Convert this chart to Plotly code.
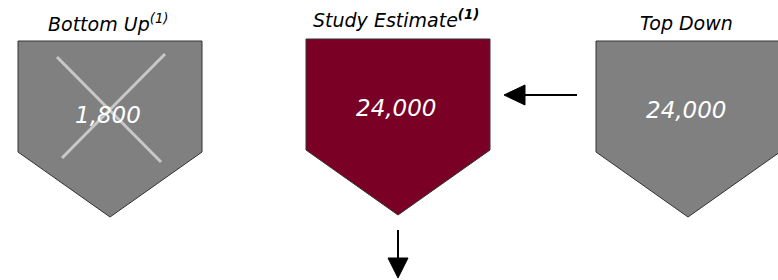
import plotly.graph_objects as go

# ---- data ----
labels = ["Bottom Up", "Study Estimate", "Top Down"]
label_notes = ["(1)", "(1)", ""]
values = [1800, 24000, 24000]
crossed_out = [True, False, False]
box_colors = ["#808080", "#7a0026", "#808080"]

# ---- layout geometry (pixels) ----
W, H = 778, 280
centers = [110, 398, 688]
tops = [41, 39, 41]
title_y = [23, 19, 23]
value_dy = [74, 69, 69]
half_w = 92
shoulder_drop = 111
tip_drop = 176

fig = go.Figure()

for i, (lab, val) in enumerate(zip(labels, values)):
    cx, top = centers[i], tops[i]
    xs = [cx - half_w, cx + half_w, cx + half_w, cx, cx - half_w, cx - half_w]
    ys = [top, top, top + shoulder_drop, top + tip_drop, top + shoulder_drop, top]
    fig.add_trace(go.Scatter(x=xs, y=ys, mode="lines", fill="toself",
                             fillcolor=box_colors[i],
                             line=dict(color="#333333", width=1),
                             hoverinfo="skip", showlegend=False))
    fig.add_annotation(x=cx - 2, y=top + value_dy[i], text=f"<i>{val:,}</i>", showarrow=False,
                       font=dict(family="DejaVu Sans", size=23, color="white"))
    note = label_notes[i]
    if note:
        note_html = f"<b><sup>{note}</sup></b>" if i == 1 else f"<sup>{note}</sup>"
    else:
        note_html = ""
    fig.add_annotation(x=cx - 2, y=title_y[i], text=f"<i>{lab}{note_html}</i>",
                       showarrow=False, font=dict(family="DejaVu Sans", size=19, color="black"))
    if crossed_out[i]:
        fig.add_trace(go.Scatter(x=[cx - 53, cx + 51], y=[top + 16, top + 121], mode="lines",
                                 line=dict(color="#c8c8c8", width=3), hoverinfo="skip", showlegend=False))
        fig.add_trace(go.Scatter(x=[cx + 55, cx - 48], y=[top + 13, top + 117], mode="lines",
                                 line=dict(color="#c8c8c8", width=3), hoverinfo="skip", showlegend=False))

# arrows: Top Down -> Study Estimate, Study Estimate -> down
ay = 95
fig.add_trace(go.Scatter(x=[577, 520], y=[ay, ay], mode="lines",
                         line=dict(color="black", width=2), hoverinfo="skip", showlegend=False))
fig.add_trace(go.Scatter(x=[504, 525, 525, 504], y=[ay, ay - 10, ay + 10, ay], mode="lines",
                         fill="toself", fillcolor="black", line=dict(color="black", width=1),
                         hoverinfo="skip", showlegend=False))
dx = centers[1]
fig.add_trace(go.Scatter(x=[dx, dx], y=[230, 262], mode="lines",
                         line=dict(color="black", width=2), hoverinfo="skip", showlegend=False))
fig.add_trace(go.Scatter(x=[dx, dx - 10, dx + 10, dx], y=[278, 258, 258, 278], mode="lines",
                         fill="toself", fillcolor="black", line=dict(color="black", width=1),
                         hoverinfo="skip", showlegend=False))

fig.update_layout(width=W, height=H, margin=dict(l=0, r=0, t=0, b=0),
                  plot_bgcolor="white", paper_bgcolor="white",
                  xaxis=dict(range=[0, W], visible=False, fixedrange=True),
                  yaxis=dict(range=[H, 0], visible=False, fixedrange=True))

fig.write_html("out.html", config={"displayModeBar": False},
               post_script="document.body.style.margin='0';document.body.style.overflow='hidden';")
